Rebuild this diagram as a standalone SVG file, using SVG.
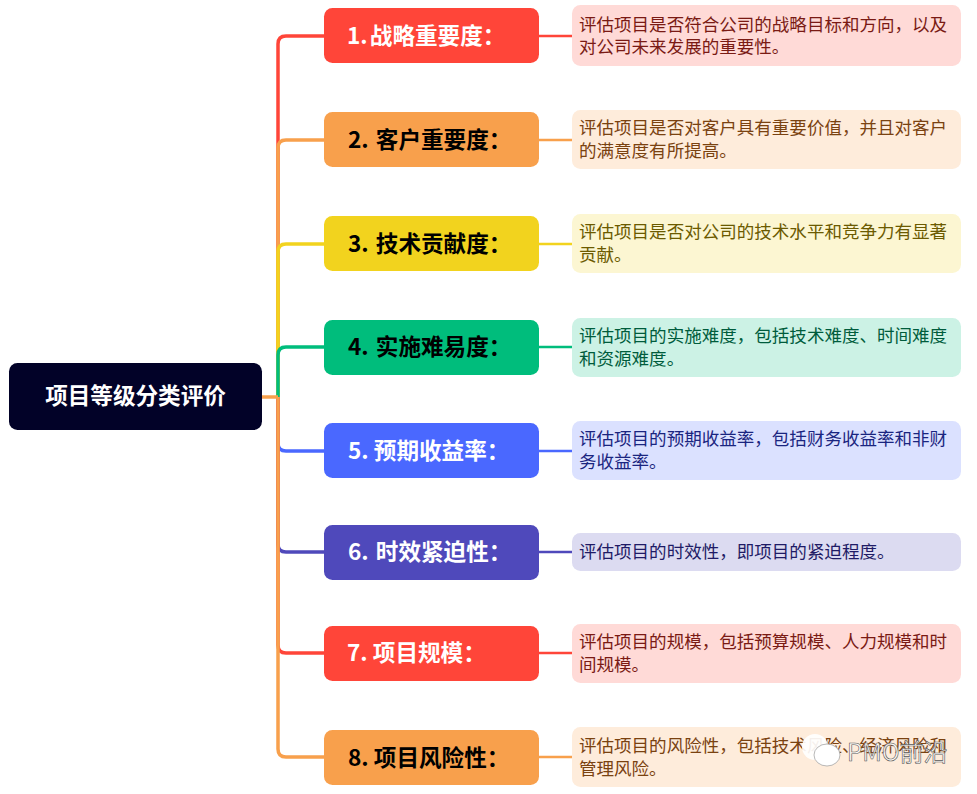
<svg xmlns="http://www.w3.org/2000/svg" width="977" height="794" viewBox="0 0 977 794">
<style>
text{font-family:"Noto Sans CJK SC","Liberation Sans",sans-serif}
rect.n{rx:8.5px;ry:8.5px}
.c{fill:none;stroke-width:3.5}
.b{stroke-width:2.5}
.t{font-size:22.6px;font-weight:700;word-spacing:2px}
.d{font-size:17.55px}
.w{fill:#fff}.k{fill:#000}
.red{stroke:#ff4539}.ora{stroke:#f8a04c}.yel{stroke:#f2d31e}.grn{stroke:#00bd7c}.blu{stroke:#4a68ff}.ind{stroke:#4f49bb}
</style>
<rect width="977" height="794" fill="#fff"/>
<g id="connectors">
<path class="c red" d="M278 397V44Q278 36 286 36H324"/>
<path class="c ora" d="M278 397V148Q278 140 286 140H324"/>
<path class="c yel" d="M278 397V252Q278 244 286 244H324"/>
<path class="c grn" d="M278 397V355Q278 347 286 347H324"/>
<path class="c blu" d="M278 397V443Q278 451 286 451H324"/>
<path class="c ind" d="M278 397V544Q278 552 286 552H324"/>
<path class="c red" d="M278 397V645Q278 653 286 653H324"/>
<path class="c ora" d="M278 397V749Q278 757 286 757H324"/>
<path class="c ora" d="M262 397H278"/>
<path class="c b red" d="M539 36H572"/>
<path class="c b ora" d="M539 140H572"/>
<path class="c b yel" d="M539 244H572"/>
<path class="c b grn" d="M539 347H572"/>
<path class="c b blu" d="M539 451H572"/>
<path class="c b ind" d="M539 552H572"/>
<path class="c b red" d="M539 653H572"/>
<path class="c b ora" d="M539 757H572"/>
</g>
<g id="root"><rect class="n" x="9" y="363" width="253" height="67" fill="#020228"/><text x="135.500" y="404" text-anchor="middle" class="t w">项目等级分类评价</text></g>
<g id="n1"><rect class="n" x="324" y="8" width="215" height="55" fill="#ff4539"/><text x="347" y="44" class="t w" style="word-spacing:-3px">1. 战略重要度：</text></g>
<g id="n2"><rect class="n" x="324" y="112" width="215" height="55" fill="#f8a04c"/><text x="348" y="148" class="t k">2. 客户重要度：</text></g>
<g id="n3"><rect class="n" x="324" y="216" width="215" height="55" fill="#f2d31e"/><text x="348" y="252" class="t k">3. 技术贡献度：</text></g>
<g id="n4"><rect class="n" x="324" y="320" width="215" height="55" fill="#00bd7c"/><text x="348" y="355" class="t k">4. 实施难易度：</text></g>
<g id="n5"><rect class="n" x="324" y="423" width="215" height="55" fill="#4a68ff"/><text x="348" y="459" class="t w" style="word-spacing:0">5. 预期收益率：</text></g>
<g id="n6"><rect class="n" x="324" y="525" width="215" height="55" fill="#4f49bb"/><text x="348" y="560" class="t w">6. 时效紧迫性：</text></g>
<g id="n7"><rect class="n" x="324" y="626" width="215" height="55" fill="#ff4539"/><text x="347" y="661" class="t w" style="word-spacing:0">7. 项目规模：</text></g>
<g id="n8"><rect class="n" x="324" y="730" width="215" height="55" fill="#f8a04c"/><text x="348" y="766" class="t k" style="word-spacing:0">8. 项目风险性：</text></g>
<g id="d1"><rect class="n" x="572" y="5" width="389" height="61" fill="#ffdad7"/><text class="d" fill="#7a1a14"><tspan x="579" y="31">评估项目是否符合公司的战略目标和方向，以及</tspan><tspan x="579" y="53">对公司未来发展的重要性。</tspan></text></g>
<g id="d2"><rect class="n" x="572" y="110" width="389" height="59" fill="#feecdb"/><text class="d" fill="#7a4210"><tspan x="579" y="134">评估项目是否对客户具有重要价值，并且对客户</tspan><tspan x="579" y="157">的满意度有所提高。</tspan></text></g>
<g id="d3"><rect class="n" x="572" y="214" width="389" height="59" fill="#fcf6d2"/><text class="d" fill="#6b5a00"><tspan x="579" y="238">评估项目是否对公司的技术水平和竞争力有显著</tspan><tspan x="579" y="261">贡献。</tspan></text></g>
<g id="d4"><rect class="n" x="572" y="318" width="389" height="59" fill="#ccf2e5"/><text class="d" fill="#005c3c"><tspan x="579" y="342">评估项目的实施难度，包括技术难度、时间难度</tspan><tspan x="579" y="365">和资源难度。</tspan></text></g>
<g id="d5"><rect class="n" x="572" y="421" width="389" height="59" fill="#dbe1ff"/><text class="d" fill="#1a2580"><tspan x="579" y="445">评估项目的预期收益率，包括财务收益率和非财</tspan><tspan x="579" y="468">务收益率。</tspan></text></g>
<g id="d6"><rect class="n" x="572" y="533" width="389" height="38" fill="#dcdbf1"/><text x="579" y="558" class="d" fill="#1f1b66">评估项目的时效性，即项目的紧迫程度。</text></g>
<g id="d7"><rect class="n" x="572" y="624" width="389" height="59" fill="#ffdad7"/><text class="d" fill="#7a1a14"><tspan x="579" y="648">评估项目的规模，包括预算规模、人力规模和时</tspan><tspan x="579" y="671">间规模。</tspan></text></g>
<g id="d8"><rect class="n" x="572" y="727" width="389" height="60" fill="#feecdb"/><text class="d" fill="#7a4210"><tspan x="579" y="752">评估项目的风险性，包括技术风险、经济风险和</tspan><tspan x="579" y="775">管理风险。</tspan></text></g>
<g id="watermark">
<ellipse cx="815" cy="747" rx="13" ry="13" fill="#fff" fill-opacity=".92"/>
<ellipse cx="827" cy="755" rx="13" ry="11" fill="#fff" stroke="#999" stroke-width=".7"/>
<text x="847" y="761" style="font-size:24px" fill="#fff" stroke="#555" stroke-width=".6" fill-opacity=".8">PMO前沿</text>
</g>
</svg>
